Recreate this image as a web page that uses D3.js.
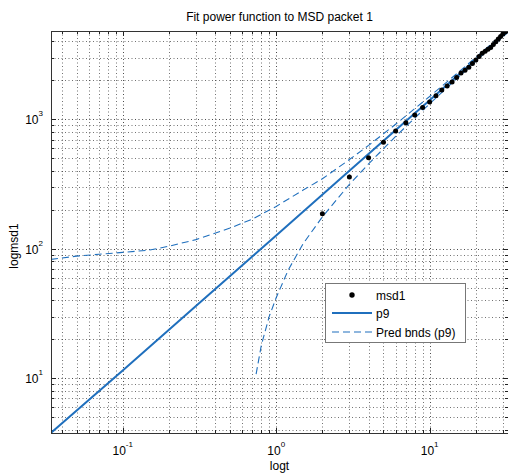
<!DOCTYPE html>
<html>
<head>
<meta charset="utf-8">
<script src="https://cdn.jsdelivr.net/npm/d3@7"></script>
<style>
  html, body { margin: 0; padding: 0; background: #fff; }
  svg { display: block; font-family: "Liberation Sans", Arial, sans-serif; }
</style>
</head>
<body>
<script>
// Measured MSD for packet 1 (lag time t, msd1)
const msdT = [2, 3, 4, 5, 6, 7, 8, 9, 10, 11, 12, 13, 14, 15, 16, 17, 18, 19, 20,
              21, 22, 23, 24, 25, 26, 27, 28, 29, 30, 31, 32];
const msdY = [187, 360, 507, 667, 815, 944, 1082, 1237, 1366, 1525, 1687, 1816, 1942,
              2110, 2279, 2403, 2526, 2700, 2878, 3058, 3243, 3364, 3482, 3597, 3785,
              3977, 4172, 4372, 4574, 4733, 4845];

// Power-function fit p9, sampled along t
const fitT = [0.0341, 0.1, 0.3, 1, 3, 10, 33];
const fitY = [3.8, 11.5, 36.2, 127, 402, 1410, 4920];

// Prediction bounds of p9
const upperT = [0.0341, 0.05, 0.07, 0.1, 0.15, 0.2, 0.3, 0.5, 0.7, 1, 1.5, 2, 3, 4, 6, 10, 15, 20, 33];
const upperY = [83, 88, 91, 94, 98, 105, 118, 145, 170, 213, 285, 348, 490, 630, 918, 1505, 2253, 3014, 5025];
const lowerT = [0.74, 0.8, 0.9, 1, 1.2, 1.5, 2, 3, 4, 6, 10, 15, 20, 33];
const lowerY = [10.8, 18, 30, 42, 69, 110, 177, 315, 454, 739, 1321, 2063, 2820, 4815];

// Axis ranges and labels
const xDomain = [0.0341, 32.4];
const yDomain = [3.79, 4820];
const xMajor = [0.1, 1, 10];
const yMajor = [10, 100, 1000];
const titleText = "Fit power function to MSD packet 1";
const xLabelText = "logt";
const yLabelText = "logmsd1";
const legendLabels = ["msd1", "p9", "Pred bnds (p9)"];

const W = 508, H = 474;
const L = 51, T = 31, R = 508, B = 433;
const blue = "#1f6fbd";

const svg = d3.select("body").append("svg").attr("width", W).attr("height", H);

const x = d3.scaleLog().domain(xDomain).range([L, R]);
const y = d3.scaleLog().domain(yDomain).range([B, T]);

svg.append("defs").append("clipPath").attr("id", "plot")
  .append("rect").attr("x", L).attr("y", T).attr("width", R - L).attr("height", B - T);

// minor + major positions inside the domain
function logTicks(dom) {
  const out = [];
  for (let e = -3; e <= 5; e++) {
    for (let m = 1; m <= 9; m++) {
      const v = m * Math.pow(10, e);
      if (v >= dom[0] && v <= dom[1]) out.push({ v, major: m === 1 });
    }
  }
  return out;
}
const xt = logTicks(xDomain), yt = logTicks(yDomain);

// grid
const grid = svg.append("g").attr("stroke", "#000").attr("stroke-width", 1)
  .attr("stroke-dasharray", "1,2.5");
grid.selectAll(".gx").data(xt).join("line")
  .attr("opacity", d => d.major ? 0.7 : 0.55)
  .attr("x1", d => Math.round(x(d.v)) + 0.5).attr("x2", d => Math.round(x(d.v)) + 0.5)
  .attr("y1", T).attr("y2", B);
grid.selectAll(".gy").data(yt).join("line")
  .attr("opacity", d => d.major ? 0.7 : 0.55)
  .attr("y1", d => Math.round(y(d.v)) + 0.5).attr("y2", d => Math.round(y(d.v)) + 0.5)
  .attr("x1", L).attr("x2", R);

// ticks (inside, all four sides)
const tk = svg.append("g").attr("stroke", "#222").attr("stroke-width", 1);
xt.forEach(d => {
  const px = Math.round(x(d.v)) + 0.5, len = d.major ? 5 : 3;
  tk.append("line").attr("x1", px).attr("x2", px).attr("y1", B).attr("y2", B - len);
  tk.append("line").attr("x1", px).attr("x2", px).attr("y1", T).attr("y2", T + len);
});
yt.forEach(d => {
  const py = Math.round(y(d.v)) + 0.5, len = d.major ? 5 : 3;
  tk.append("line").attr("y1", py).attr("y2", py).attr("x1", L).attr("x2", L + len);
  tk.append("line").attr("y1", py).attr("y2", py).attr("x1", R).attr("x2", R - len);
});

// plotted marks
const plot = svg.append("g").attr("clip-path", "url(#plot)");
const line = d3.line().x(d => x(d[0])).y(d => y(d[1]));

plot.append("path").datum(d3.zip(upperT, upperY)).attr("d", line)
  .attr("fill", "none").attr("stroke", blue).attr("stroke-width", 1.1)
  .attr("stroke-dasharray", "7,4");
plot.append("path").datum(d3.zip(lowerT, lowerY)).attr("d", line)
  .attr("fill", "none").attr("stroke", blue).attr("stroke-width", 1.1)
  .attr("stroke-dasharray", "7,4");
plot.append("path").datum(d3.zip(fitT, fitY)).attr("d", line)
  .attr("fill", "none").attr("stroke", blue).attr("stroke-width", 2);
plot.selectAll("circle.pt").data(d3.zip(msdT, msdY)).join("circle")
  .attr("class", "pt")
  .attr("cx", d => x(d[0])).attr("cy", d => y(d[1])).attr("r", 2.5).attr("fill", "#000");

// axes box
svg.append("rect").attr("x", L + 0.5).attr("y", T + 0.5)
  .attr("width", R - L).attr("height", B - T)
  .attr("fill", "none").attr("stroke", "#333").attr("stroke-width", 1);

// tick labels with superscript exponents
const tl = svg.append("g").attr("fill", "#000");
xMajor.forEach(v => {
  const e = Math.round(Math.log10(v));
  const t = tl.append("text").attr("x", x(v)).attr("y", 455)
    .attr("text-anchor", "middle").attr("font-size", 12);
  t.append("tspan").text("10");
  t.append("tspan").attr("dy", -8).attr("font-size", 8).text(e);
});
yMajor.forEach(v => {
  const e = Math.round(Math.log10(v));
  const t = tl.append("text").attr("x", 43).attr("y", y(v) + 5)
    .attr("text-anchor", "end").attr("font-size", 12);
  t.append("tspan").text("10");
  t.append("tspan").attr("dy", -8).attr("font-size", 8).text(e);
});

// title and axis labels
svg.append("text").attr("x", (L + R) / 2).attr("y", 21).attr("text-anchor", "middle")
  .attr("font-size", 12).text(titleText);
svg.append("text").attr("x", (L + R) / 2).attr("y", 470).attr("text-anchor", "middle")
  .attr("font-size", 12).text(xLabelText);
svg.append("text").attr("transform", "translate(18,246) rotate(-90)")
  .attr("text-anchor", "middle").attr("font-size", 12).text(yLabelText);

// legend
const lg = svg.append("g");
lg.append("rect").attr("x", 325.5).attr("y", 283.5).attr("width", 140).attr("height", 59)
  .attr("fill", "#fff").attr("stroke", "#777").attr("stroke-width", 1);
const rows = [295, 313, 332];
lg.append("circle").attr("cx", 352).attr("cy", rows[0]).attr("r", 2.7).attr("fill", "#000");
lg.append("line").attr("x1", 332).attr("x2", 372).attr("y1", rows[1]).attr("y2", rows[1])
  .attr("stroke", blue).attr("stroke-width", 2);
lg.append("line").attr("x1", 332).attr("x2", 372).attr("y1", rows[2]).attr("y2", rows[2])
  .attr("stroke", blue).attr("stroke-width", 1.1).attr("stroke-dasharray", "7,4");
legendLabels.forEach((s, i) => {
  lg.append("text").attr("x", 376).attr("y", rows[i] + 4.5).attr("font-size", 12).text(s);
});
</script>
</body>
</html>
